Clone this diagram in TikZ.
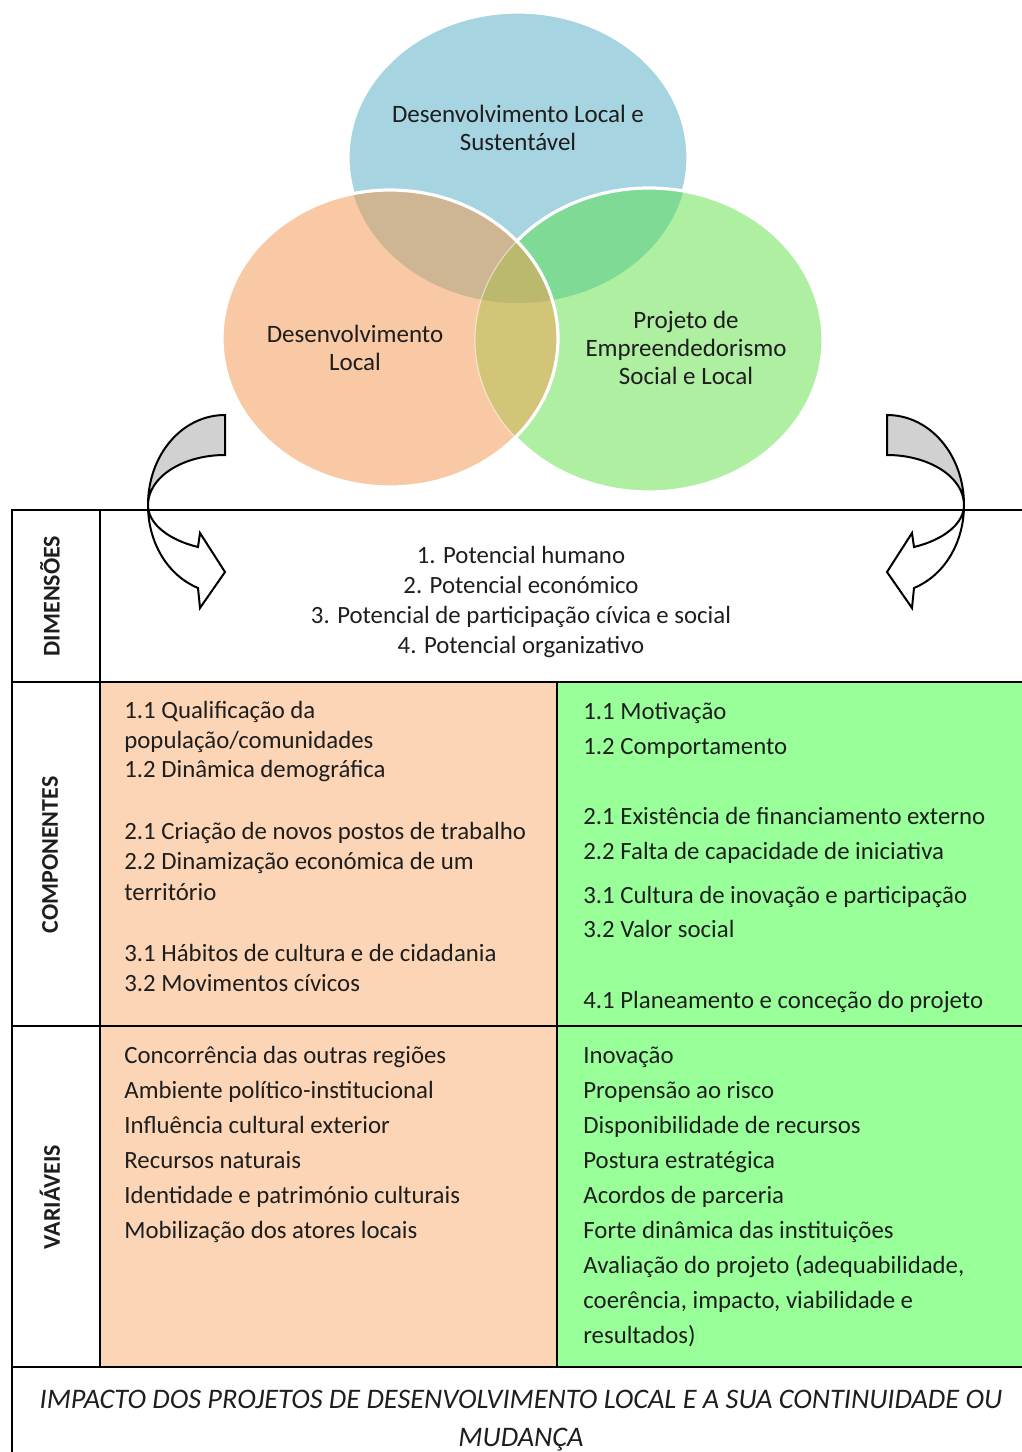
\documentclass[tikz,border=0pt]{standalone}
\usepackage{fontspec}
\setmainfont{Carlito}
\definecolor{cblue}{HTML}{A6D4E0}
\definecolor{corange}{HTML}{F8C9A4}
\definecolor{cgreen}{HTML}{AEEFA1}
\definecolor{cbo}{HTML}{CEB593}
\definecolor{cbg}{HTML}{7FDA95}
\definecolor{cog}{HTML}{D3C577}
\definecolor{cbog}{HTML}{BAB96E}
\definecolor{tabor}{HTML}{FBD5B5}
\definecolor{tabgr}{HTML}{99FF99}
\definecolor{ink}{HTML}{1E1E1E}
\begin{document}
\begin{tikzpicture}[x=0.5pt,y=-0.5pt,
  ring/.style={draw=white,line width=1.6pt},
  bubble/.style={align=center,inner sep=0pt,text=ink,font=\fontsize{12.5}{14}\selectfont},
  cell/.style={anchor=base west,inner sep=0pt,text=ink,font=\fontsize{12.4}{14}\selectfont},
  dim/.style={anchor=base,inner sep=0pt,text=ink,font=\fontsize{12.4}{14}\selectfont},
  side/.style={rotate=90,inner sep=0pt,text=ink,font=\bfseries\fontsize{12}{14}\selectfont},
  grid/.style={line width=1.4pt},
  twist/.style={draw,line width=1pt,fill=#1}]
\useasboundingbox (0,0) rectangle (1022,1452);

% circles
\def\blueshape{(518,157.5) ellipse [x radius=170,y radius=145.5]}
\def\orangeshape{(390,338.5) ellipse [x radius=168,y radius=148.5]}
\def\greenshape{(649,340) ellipse [x radius=174,y radius=152]}
\fill[cblue] \blueshape;
\draw[ring] \blueshape;
\fill[cgreen] \greenshape;
\begin{scope}
  \clip \blueshape;
  \fill[cbg] \greenshape;
\end{scope}
\draw[ring] \greenshape;
\fill[corange] \orangeshape;
\begin{scope}
  \clip \blueshape;
  \fill[cbo] \orangeshape;
\end{scope}
\begin{scope}
  \clip \greenshape;
  \fill[cog] \orangeshape;
\end{scope}
\begin{scope}
  \clip \blueshape;
  \clip \greenshape;
  \fill[cbog] \orangeshape;
\end{scope}
\begin{scope}
  \clip \orangeshape;
  \draw[white,opacity=.5,line width=.6pt] \greenshape;
\end{scope}
\draw[ring] \orangeshape;

\node[bubble] (dls) at (518,128) {Desenvolvimento Local e\\Sustentável};
\node[bubble] (dl) at (355,347.5) {Desenvolvimento\\Local};
\node[bubble] (pesl) at (686,347.5) {Projeto de\\Empreendedorismo\\Social e Local};

% bent arrows
\foreach \s/\cx in {1/225,-1/887}
{
  \begin{scope}[shift={(\cx,505)},xscale=\s]
    \path[twist=black!18] (0,-90) .. controls (-43,-90) and (-77,-50) .. (-77,0)
      .. controls (-77,-28) and (-42,-50) .. (0,-50) -- cycle;
    \path[twist=white] (-77,0) .. controls (-77,37) and (-58,70) .. (-27,83)
      -- (-25,103) -- (0,67) -- (-25,28) -- (-27,42)
      .. controls (-56,35) and (-77,19) .. (-77,0) -- cycle;
  \end{scope}
}

% table
\fill[tabor] (100,682) rectangle (557,1367);
\fill[tabgr] (557,682) rectangle (1022,1367);
\draw[grid] (12,1452) -- (12,510) -- (1022,510);
\foreach \y in {682,1026,1367}
  \draw[grid] (12,\y) -- (1022,\y);
\draw[grid] (100,510) -- (100,1367);
\draw[grid] (557,682) -- (557,1367);

\node[side] (hdim) at (50,596) {DIMENSÕES};
\node[side] (hcomp) at (50,855) {COMPONENTES};
\node[side] (hvar) at (50,1197) {VARIÁVEIS};

\foreach \y/\t [count=\i] in {563/{1. Potencial humano},593/{2. Potencial económico},
  623/{3. Potencial de participação cívica e social},653/{4. Potencial organizativo}}
  \node[dim] (dim\i) at (521,\y) {\t};

\foreach \y/\t [count=\i] in {718/{1.1 Qualificação da},748/{população/comunidades},
  777/{1.2 Dinâmica demográfica},839/{2.1 Criação de novos postos de trabalho},
  869/{2.2 Dinamização económica de um},900/{território},
  961/{3.1 Hábitos de cultura e de cidadania},991/{3.2 Movimentos cívicos}}
  \node[cell] (lc\i) at (124,\y) {\t};

\foreach \y/\t [count=\i] in {719/{1.1 Motivação},754/{1.2 Comportamento},
  824/{2.1 Existência de financiamento externo},859/{2.2 Falta de capacidade de iniciativa},
  903/{3.1 Cultura de inovação e participação},937/{3.2 Valor social},
  1008/{4.1 Planeamento e conceção do projeto}}
  \node[cell] (rc\i) at (583,\y) {\t};

\foreach \t [count=\i] in {{Concorrência das outras regiões},{Ambiente político-institucional},
  {Influência cultural exterior},{Recursos naturais},
  {Identidade e património culturais},{Mobilização dos atores locais}}
  \node[cell] (lv\i) at (124,1028+35*\i) {\t};

\foreach \t [count=\i] in {{Inovação},{Propensão ao risco},{Disponibilidade de recursos},
  {Postura estratégica},{Acordos de parceria},{Forte dinâmica das instituições},
  {Avaliação do projeto (adequabilidade,},{coerência, impacto, viabilidade e},{resultados)}}
  \node[cell] (rv\i) at (583,1028+35*\i) {\t};

\node[align=center,inner sep=0pt,text=ink,font=\itshape\fontsize{14.15}{19}\selectfont]
  (impact) at (521,1421) {IMPACTO DOS PROJETOS DE DESENVOLVIMENTO LOCAL E A SUA CONTINUIDADE OU\\MUDANÇA};
\end{tikzpicture}
\end{document}
